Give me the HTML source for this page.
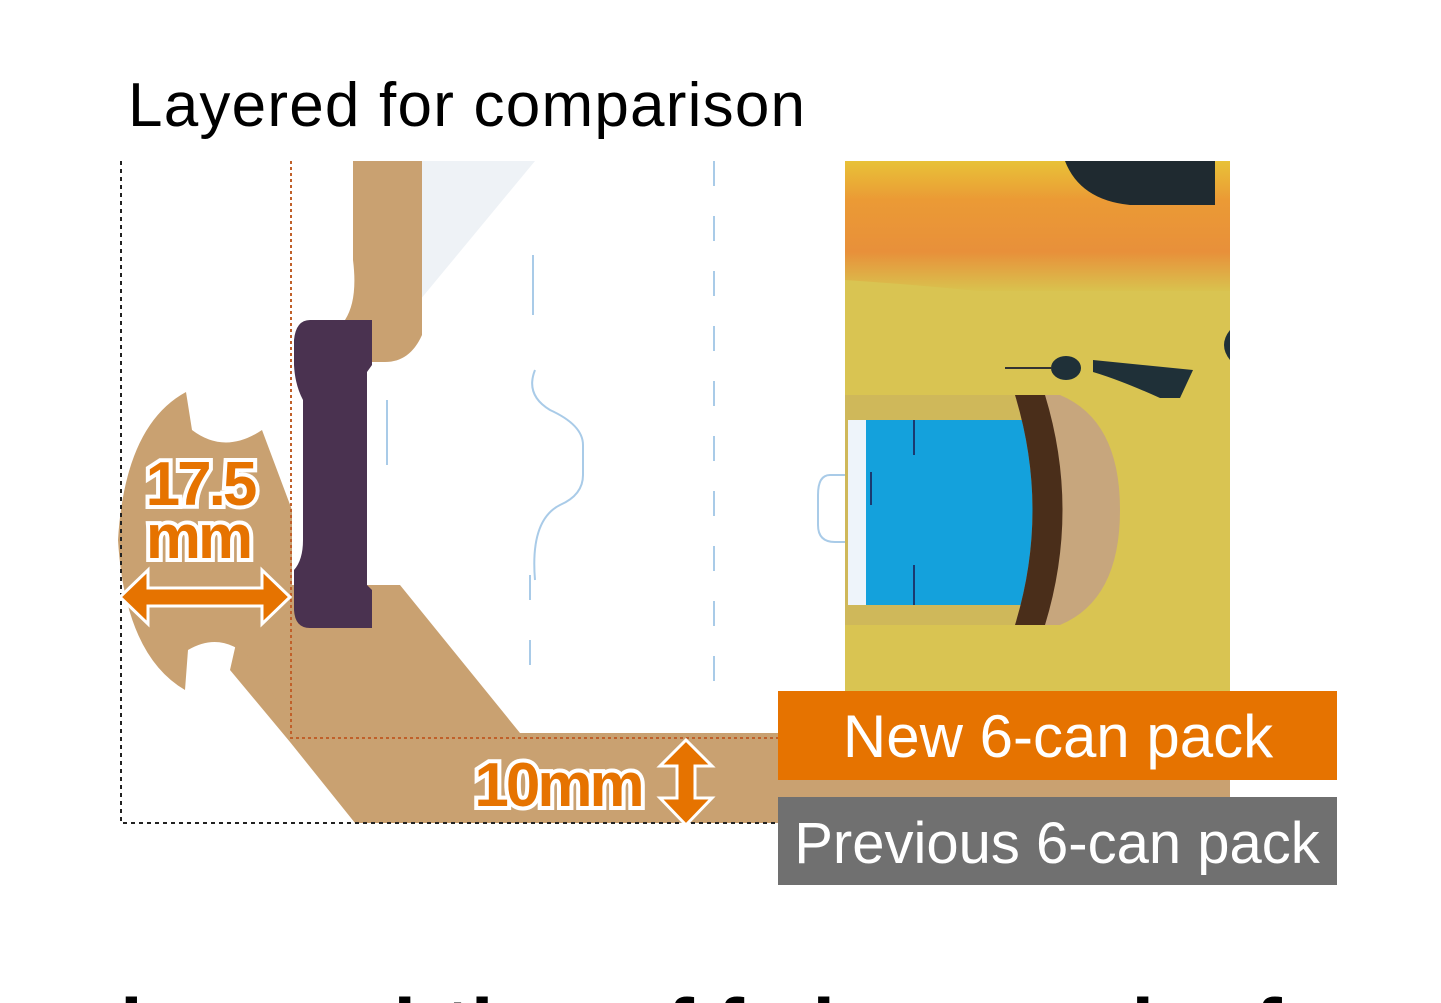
<!DOCTYPE html>
<html><head><meta charset="utf-8"><style>
html,body{margin:0;padding:0;background:#fff;width:1441px;height:1003px;overflow:hidden}
svg{display:block}
</style></head><body>
<svg width="1441" height="1003" viewBox="0 0 1441 1003" xmlns="http://www.w3.org/2000/svg" style="overflow:hidden">
<defs>
<linearGradient id="top" x1="0" y1="0" x2="0" y2="1">
<stop offset="0" stop-color="#e8c238"/><stop offset="0.3" stop-color="#eb9a35"/><stop offset="0.7" stop-color="#e8903a"/><stop offset="1" stop-color="#d9c24e"/>
</linearGradient>
</defs>
<text x="128" y="126" font-family="Liberation Sans, sans-serif" font-size="62" fill="#000" textLength="677" lengthAdjust="spacing">Layered for comparison</text>
<polygon points="420,161 535,161 420,300" fill="#eef2f6"/>
<g fill="#c9a171">
<path d="M353,161 L422,161 L422,335 Q410,362 385,362 L372,362 L372,320 L345,320 Q358,300 353,260 Z"/>
<path d="M372,585 L400,585 L520,733 L1230,733 L1230,823 L355,823 L290,742 L230,670 L255,560 L290,520 L290,585 Z"/>
<path d="M292,510 L262,430 Q225,455 192,430 L186,392 Q125,425 118,540 Q125,655 185,690 L188,650 Q222,630 252,660 L292,725 Z"/>
</g>
<path d="M310,320 L372,320 L372,365 L367,372 L367,585 L372,590 L372,628 L310,628 Q295,628 294,610 L294,570 Q303,560 303,540 L303,400 Q295,385 294,365 L294,340 Q296,320 310,320 Z" fill="#4a3250"/>
<g stroke="#a9cbe8" stroke-width="2" fill="none">
<line x1="533" y1="255" x2="533" y2="315"/>
<line x1="387" y1="400" x2="387" y2="465"/>
<line x1="530" y1="575" x2="530" y2="600"/>
<line x1="530" y1="640" x2="530" y2="665"/>
<line x1="714" y1="161" x2="714" y2="690" stroke-dasharray="25,30"/>
<path d="M535,370 Q525,395 550,410 Q583,425 583,445 L583,475 Q583,495 560,505 Q530,520 535,580"/>
<path d="M845,475 L830,475 Q818,475 818,495 L818,525 Q818,542 835,542 L848,542"/>
</g>
<rect x="845" y="161" width="385" height="530" fill="#d9c452"/>
<rect x="845" y="161" width="385" height="130" fill="url(#top)"/>
<path d="M845,280 Q1000,290 1230,320 L1230,330 Q1000,300 845,295 Z" fill="#d9c452"/>
<path d="M1065,161 L1215,161 L1215,205 L1130,205 Q1080,200 1065,161 Z" fill="#1f2a30"/>
<ellipse cx="1066" cy="368" rx="15" ry="12" fill="#1f3038"/>
<path d="M1093,360 L1193,370 L1180,398 L1160,398 Q1120,380 1093,372 Z" fill="#1f3038"/>
<path d="M1230,330 Q1218,345 1230,360 Z" fill="#1f3038"/>
<line x1="1005" y1="368" x2="1052" y2="368" stroke="#333" stroke-width="2"/>
<rect x="845" y="395" width="180" height="230" fill="#cfb85a"/>
<rect x="848" y="420" width="20" height="185" fill="#eef4fa"/>
<rect x="866" y="420" width="172" height="185" fill="#14a1dc"/>
<path d="M1015,395 L1060,395 Q1120,420 1120,510 Q1120,600 1060,625 L1015,625 Q1050,510 1015,395 Z" fill="#c7a67d"/>
<path d="M1015,395 L1045,395 Q1080,510 1045,625 L1015,625 Q1050,510 1015,395 Z" fill="#4a2e1a"/>
<g stroke="#1a3a70" stroke-width="2">
<line x1="914" y1="420" x2="914" y2="455"/><line x1="914" y1="565" x2="914" y2="605"/>
<line x1="871" y1="472" x2="871" y2="505"/>
</g>
<g fill="none" stroke-width="2">
<path d="M121,161 L121,823 L778,823" stroke="#222" stroke-dasharray="4,4"/>
<path d="M291,161 L291,738 L778,738" stroke="#c0602a" stroke-dasharray="3,3"/>
</g>
<g fill="#e67300" stroke="#fff" stroke-width="3" stroke-linejoin="miter">
<path d="M120,597 L148,570 L148,588 L262,588 L262,570 L290,597 L262,624 L262,606 L148,606 L148,624 Z"/>
<path d="M686,740 L712,766 L695,766 L695,798 L712,798 L686,825 L660,798 L677,798 L677,766 L660,766 Z"/>
</g>
<g font-family="Liberation Sans, sans-serif" font-weight="bold" fill="#e67300" stroke="#fff" stroke-width="8" paint-order="stroke" text-anchor="middle" letter-spacing="-3">
<text x="200" y="505" font-size="62">17.5</text>
<text x="198" y="558" font-size="62">mm</text>
<text x="558" y="806" font-size="62">10mm</text>
</g>
<rect x="778" y="691" width="559" height="89" fill="#e67300"/>
<text x="1058" y="757" text-anchor="middle" font-family="Liberation Sans, sans-serif" font-size="60" fill="#fff">New 6-can pack</text>
<rect x="778" y="797" width="559" height="88" fill="#707070"/>
<text x="1057" y="863" text-anchor="middle" font-family="Liberation Sans, sans-serif" font-size="58" fill="#fff">Previous 6-can pack</text>
<text x="120" y="1056" font-family="Liberation Sans, sans-serif" font-weight="bold" font-size="82" fill="#000">lomprahtion uf fe ingrmaaler fo reel</text>
</svg>
</body></html>
